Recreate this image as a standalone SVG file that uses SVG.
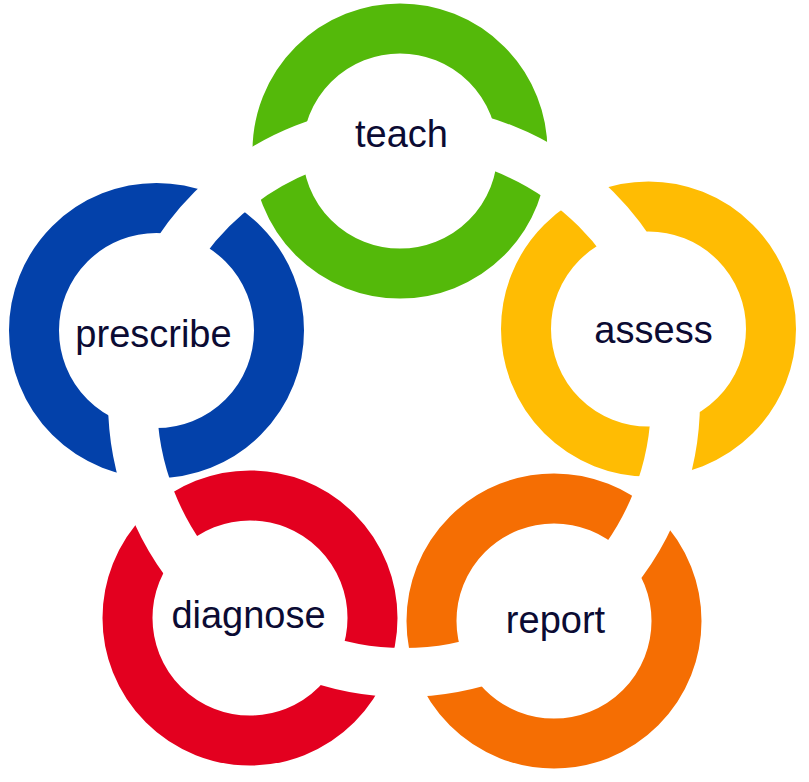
<svg xmlns="http://www.w3.org/2000/svg" width="809" height="782" viewBox="0 0 809 782">
<style>
.ring{fill:none;stroke-width:50}
.lbl{font-family:"Liberation Sans",Arial,sans-serif;font-size:38px;fill:#0b0b33;text-anchor:middle}
</style>
<defs>
<mask id="cut" maskUnits="userSpaceOnUse" x="0" y="0" width="809" height="782">
<rect x="0" y="0" width="809" height="782" fill="#fff"/>
<circle cx="404" cy="401" r="271.5" fill="none" stroke="#000" stroke-width="49"/>
</mask>
</defs>
<rect width="809" height="782" fill="#fff"/>
<g id="teach">
<circle class="ring" cx="400" cy="151" r="122.5" stroke="#54B90A" mask="url(#cut)"/>
<text class="lbl" x="401.5" y="147">teach</text>
</g>
<g id="assess">
<circle class="ring" cx="648.5" cy="329" r="122.5" stroke="#FFBC03" mask="url(#cut)"/>
<text class="lbl" x="653.5" y="342.5">assess</text>
</g>
<g id="report">
<circle class="ring" cx="554" cy="621" r="122.5" stroke="#F56E03" mask="url(#cut)"/>
<text class="lbl" x="555.5" y="633">report</text>
</g>
<g id="diagnose">
<circle class="ring" cx="250" cy="618" r="122.5" stroke="#E3001F" mask="url(#cut)"/>
<text class="lbl" x="248.5" y="628">diagnose</text>
</g>
<g id="prescribe">
<circle class="ring" cx="156.5" cy="330.5" r="122.5" stroke="#0341AA" mask="url(#cut)"/>
<text class="lbl" x="153.5" y="346.5">prescribe</text>
</g>
</svg>
